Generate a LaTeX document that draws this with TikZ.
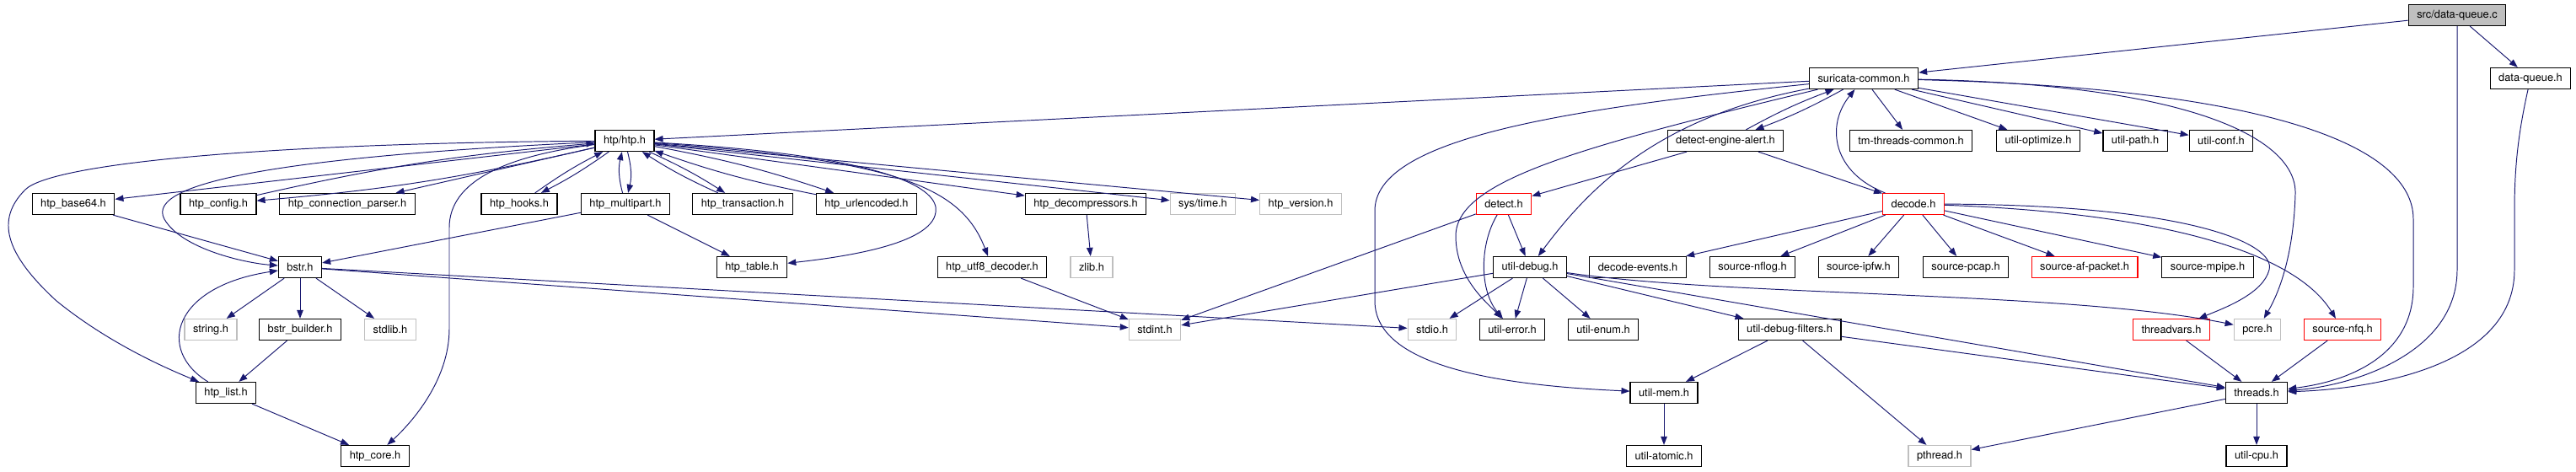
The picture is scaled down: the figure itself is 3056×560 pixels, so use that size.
\documentclass[tikz,border=0pt]{standalone}
\usepackage{fontspec}
\setsansfont{TeX Gyre Heros}
\usepackage{tikz}
\usetikzlibrary{arrows.meta}
\definecolor{igNavy} {RGB}{ 25, 25,112}
\definecolor{igRed}  {RGB}{255,  0,  0}
\definecolor{igGrey} {RGB}{191,191,191}
\definecolor{igGreyF}{RGB}{191,191,191}

\begin{document}
\begin{tikzpicture}[x=0.02cm,y=-0.02cm,
  every node/.style={font=\sffamily\fontsize{7.3}{8}\selectfont},
  hdr/.style={draw=black,line width=0.7pt,fill=white,inner xsep=0.2cm,
              inner ysep=0pt,minimum height=0.5cm},
  sys/.style={hdr,draw=igGrey},
  trunc/.style={hdr,draw=igRed},
  root/.style={hdr,fill=igGreyF},
  dep/.style={draw=igNavy,line width=0.55pt,
              -{Triangle[length=0.2cm,width=0.15cm]}}
]
\useasboundingbox (0,0) rectangle (3056,560);
% rows 0-3
\node[root]  (src)    at (2915, 18) {src/data-queue.c};
\node[hdr]   (sc)     at (2211, 93) {suricata-common.h};
\node[hdr]   (dqh)    at (3002, 93) {data-queue.h};
\node[hdr]   (htp)    at ( 741,167) {htp/htp.h};
\node[hdr]   (dea)    at (2047,167) {detect-engine-alert.h};
\node[hdr]   (tmc)    at (2267,167) {tm-threads-common.h};
\node[hdr]   (uopt)   at (2418,167) {util-optimize.h};
\node[hdr]   (upath)  at (2533,167) {util-path.h};
\node[hdr]   (uconf)  at (2635,167) {util-conf.h};
\node[hdr]   (b64)    at (  87,242) {htp\_base64.h};
\node[hdr]   (hcfg)   at ( 259,242) {htp\_config.h};
\node[hdr]   (hcp)    at ( 412,242) {htp\_connection\_parser.h};
\node[hdr]   (hhk)    at ( 616,242) {htp\_hooks.h};
\node[hdr]   (hmp)    at ( 742,242) {htp\_multipart.h};
\node[hdr]   (htx)    at ( 881,242) {htp\_transaction.h};
\node[hdr]   (hurl)   at (1028,242) {htp\_urlencoded.h};
\node[hdr]   (hdec)   at (1288,242) {htp\_decompressors.h};
\node[sys]   (stime)  at (1427,242) {sys/time.h};
\node[sys]   (hver)   at (1543,242) {htp\_version.h};
\node[trunc] (det)    at (1784,242) {detect.h};
\node[trunc] (dec)    at (2270,242) {decode.h};
% rows 4-7
\node[hdr]   (bstr)   at ( 356,317) {bstr.h};
\node[hdr]   (htab)   at ( 892,317) {htp\_table.h};
\node[hdr]   (hutf)   at (1177,317) {htp\_utf8\_decoder.h};
\node[sys]   (zlib)   at (1295,317) {zlib.h};
\node[hdr]   (udbg)   at (1815,317) {util-debug.h};
\node[hdr]   (devt)   at (1943,317) {decode-events.h};
\node[hdr]   (snflog) at (2079,317) {source-nflog.h};
\node[hdr]   (sipfw)  at (2205,317) {source-ipfw.h};
\node[hdr]   (spcap)  at (2332,317) {source-pcap.h};
\node[trunc] (safp)   at (2473,317) {source-af-packet.h};
\node[hdr]   (smpipe) at (2619,317) {source-mpipe.h};
\node[sys]   (strh)   at ( 250,391) {string.h};
\node[hdr]   (bbld)   at ( 356,391) {bstr\_builder.h};
\node[sys]   (stdl)   at ( 463,391) {stdlib.h};
\node[sys]   (sint)   at (1370,391) {stdint.h};
\node[sys]   (sio)    at (1699,391) {stdio.h};
\node[hdr]   (uerr)   at (1794,391) {util-error.h};
\node[hdr]   (uenum)  at (1902,391) {util-enum.h};
\node[hdr]   (udf)    at (2123,391) {util-debug-filters.h};
\node[trunc] (tvar)   at (2576,391) {threadvars.h};
\node[sys]   (pcre)   at (2678,391) {pcre.h};
\node[trunc] (snfq)   at (2779,391) {source-nfq.h};
\node[hdr]   (hlist)  at ( 268,466) {htp\_list.h};
\node[hdr]   (umem)   at (1974,466) {util-mem.h};
\node[hdr]   (thr)    at (2677,466) {threads.h};
\node[hdr]   (hcore)  at ( 445,541) {htp\_core.h};
\node[hdr]   (uatom)  at (1974,541) {util-atomic.h};
\node[sys]   (pthr)   at (2301,541) {pthread.h};
\node[hdr]   (ucpu)   at (2677,541) {util-cpu.h};

% right half
\foreach \t in {sc,dqh}
  \draw[dep] (src) -- (\t);
\draw[dep] (src) -- (2915,320) .. controls (2915,420) and (2790,458) .. (thr);
\draw[dep] (dqh) .. controls (2987,160) and (2983,200) .. (2983,250) -- (2983,320)
  .. controls (2983,440) and (2800,462) .. (thr);
\foreach \t in {htp,tmc,uopt,upath,uconf}
  \draw[dep] (sc) -- (\t);
\draw[dep] (sc) to[bend left=4] (dea);
\draw[dep] (dea) to[bend left=4] (sc);
\draw[dep] (sc) .. controls (1960,140) and (1880,230) .. (udbg);
\draw[dep] (sc) .. controls (1870,175) and (1727,215) .. (1727,280)
  .. controls (1727,330) and (1765,360) .. (uerr);
\draw[dep] (sc) .. controls (1850,130) and (1631,165) .. (1631,250) -- (1631,357)
  .. controls (1631,440) and (1800,458) .. (umem);
\draw[dep] (sc) .. controls (2600,100) and (2725,165) .. (2723,230)
  .. controls (2721,300) and (2705,345) .. (pcre);
\draw[dep] (sc) .. controls (2700,105) and (2863,175) .. (2863,260) -- (2863,340)
  .. controls (2863,420) and (2790,452) .. (thr);
\draw[dep] (dec) .. controls (2175,205) and (2165,150) .. (sc);
\foreach \t in {det,dec}
  \draw[dep] (dea) -- (\t);
\foreach \t in {udbg,sint}
  \draw[dep] (det) -- (\t);
\draw[dep] (det) .. controls (1755,290) and (1755,345) .. (uerr);
\foreach \t in {devt,snflog,sipfw,spcap,safp,smpipe}
  \draw[dep] (dec) -- (\t);
\draw[dep] (dec) .. controls (2600,243) and (2700,290) .. (2692,320)
  .. controls (2685,348) and (2640,365) .. (tvar);
\draw[dep] (dec) .. controls (2550,252) and (2720,295) .. (snfq);
\foreach \t in {sint,sio,uerr,uenum,udf,thr}
  \draw[dep] (udbg) -- (\t);
\draw[dep] (udbg) .. controls (2050,352) and (2450,345) .. (pcre);
\foreach \t in {umem,pthr,thr}
  \draw[dep] (udf) -- (\t);
\draw[dep] (umem) -- (uatom);
\foreach \t in {pthr,ucpu}
  \draw[dep] (thr) -- (\t);
\foreach \t in {tvar,snfq}
  \draw[dep] (\t) -- (thr);

% left half
\foreach \t in {b64,hcp,hdec,stime,hver}
  \draw[dep] (htp) -- (\t);
\foreach \t in {hcfg,hhk,htx,hurl} {
  \draw[dep] (htp) to[bend left=4] (\t);
  \draw[dep] (\t) to[bend left=4] (htp);
}
\draw[dep] (htp) to[bend left=14] (hmp);
\draw[dep] (hmp) to[bend left=14] (htp);
\draw[dep] (htp) .. controls (1060,185) and (1115,225) .. (1110,252)
  .. controls (1105,290) and (1000,305) .. (htab);
\draw[dep] (htp) .. controls (1060,190) and (1140,220) .. (hutf);
\draw[dep] (htp) .. controls (350,185) and (170,215) .. (195,260)
  .. controls (215,295) and (290,312) .. (bstr);
\draw[dep] (htp) .. controls (300,170) and (60,195) .. (30,225)
  .. controls (-5,260) and (5,300) .. (67,357)
  .. controls (120,400) and (180,430) .. (hlist);
\draw[dep] (htp) .. controls (600,185) and (533,215) .. (533,270) -- (533,390)
  .. controls (533,450) and (490,500) .. (hcore);
\foreach \t in {bstr,htab}
  \draw[dep] (hmp) -- (\t);
\draw[dep] (b64) -- (bstr);
\foreach \t in {strh,bbld,stdl,sint,sio}
  \draw[dep] (bstr) -- (\t);
\draw[dep] (bbld) -- (hlist);
\draw[dep] (hlist) .. controls (185,415) and (205,340) .. (bstr);
\draw[dep] (hlist) -- (hcore);
\draw[dep] (hdec) -- (zlib);
\draw[dep] (hutf) -- (sint);
\end{tikzpicture}
\end{document}
